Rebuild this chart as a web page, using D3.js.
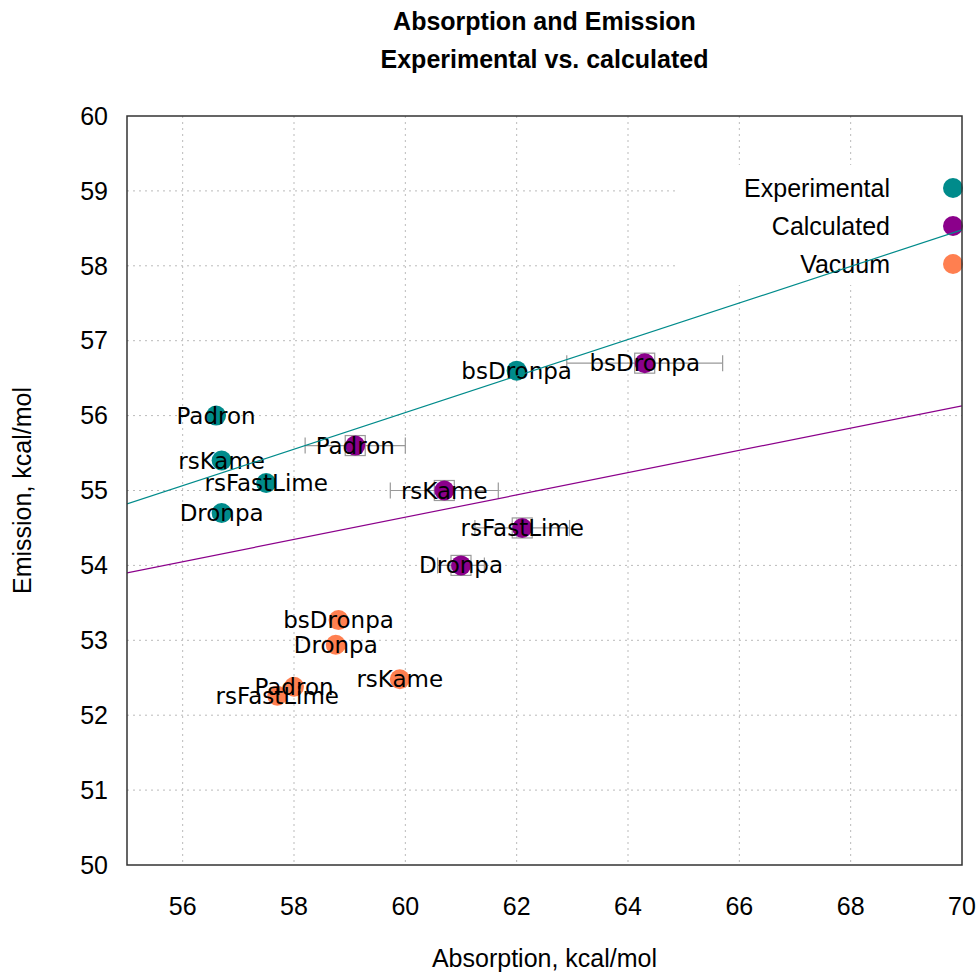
<!DOCTYPE html>
<html>
<head>
<meta charset="utf-8">
<script src="https://cdn.jsdelivr.net/npm/d3@7"></script>
<style>
    body { margin: 0; background: #fff; }
    svg text { fill: #000; }
    .grid line { stroke: #bbb; stroke-width: 1; stroke-dasharray: 2,4; }
    .border { fill: none; stroke: #333; stroke-width: 1.5; }
    .tick-label { font-family: "Liberation Sans", Arial, sans-serif; font-size: 25px; }
    .axis-title { font-family: "Liberation Sans", Arial, sans-serif; font-size: 25px; }
    .title { font-family: "Liberation Sans", Arial, sans-serif; font-size: 25px; font-weight: bold; }
    .point-label { font-family: "DejaVu Sans", sans-serif; font-size: 23px; }
    .legend-text { font-family: "Liberation Sans", Arial, sans-serif; font-size: 25px; }
    .errbar { stroke: #999; stroke-width: 1.2; fill: none; }
</style>
</head>
<body>
<div id="chart"></div>
<script>
// protein names, same order in every series
var names = ["Padron", "rsKame", "rsFastLime", "Dronpa", "bsDronpa"];

// experimental absorption / emission, kcal/mol
var expAbs = [56.6, 56.7, 57.5, 56.7, 62.0];
var expEm  = [56.0, 55.4, 55.1, 54.7, 56.6];

// calculated, with absorption error
var calcAbs    = [59.1, 60.7, 62.1, 61.0, 64.3];
var calcAbsErr = [0.9, 0.97, 0.85, 0.42, 1.4];
var calcEm     = [55.6, 55.0, 54.5, 54.0, 56.7];

// vacuum
var vacAbs = [58.0, 59.9, 57.7, 58.75, 58.8];
var vacEm  = [52.38, 52.48, 52.26, 52.94, 53.27];

// linear fits, evaluated at the x range ends
var fitX     = [55, 70];
var fitExpY  = [54.82, 58.48];
var fitCalcY = [53.90, 56.13];

var xTicks = [56, 58, 60, 62, 64, 66, 68, 70];
var yTicks = [50, 51, 52, 53, 54, 55, 56, 57, 58, 59, 60];

var seriesNames  = ["Experimental", "Calculated", "Vacuum"];
var seriesColors = ["#008b8b", "#8b008b", "#ff7f50"];

var margin = { top: 116, right: 15, bottom: 110, left: 127 },
    totalW = 977, totalH = 975,
    width = totalW - margin.left - margin.right,
    height = totalH - margin.top - margin.bottom,
    radius = 10;

var svg = d3.select("#chart").append("svg")
    .attr("width", totalW)
    .attr("height", totalH);

var g = svg.append("g")
    .attr("transform", "translate(" + margin.left + "," + margin.top + ")");

var x = d3.scaleLinear().domain([55, 70]).range([0, width]);
var y = d3.scaleLinear().domain([50, 60]).range([height, 0]);

// grid
var grid = g.append("g").attr("class", "grid");
grid.selectAll(".gx").data(xTicks.filter(function(d) { return d < 70; }))
    .enter().append("line")
    .attr("x1", function(d) { return x(d); }).attr("x2", function(d) { return x(d); })
    .attr("y1", 0).attr("y2", height);
grid.selectAll(".gy").data(yTicks.filter(function(d) { return d > 50 && d < 60; }))
    .enter().append("line")
    .attr("x1", 0).attr("x2", width)
    .attr("y1", function(d) { return y(d); }).attr("y2", function(d) { return y(d); });

// tick labels
g.append("g").selectAll("text").data(xTicks)
    .enter().append("text")
    .attr("class", "tick-label")
    .attr("x", function(d) { return x(d); })
    .attr("y", height + 41)
    .attr("dy", "0.35em")
    .attr("text-anchor", "middle")
    .text(function(d) { return d; });

g.append("g").selectAll("text").data(yTicks)
    .enter().append("text")
    .attr("class", "tick-label")
    .attr("x", -19)
    .attr("y", function(d) { return y(d); })
    .attr("dy", "0.35em")
    .attr("text-anchor", "end")
    .text(function(d) { return d; });

// opaque key box
var legend = g.append("g").attr("class", "legend");
legend.append("rect")
    .attr("x", x(64.85)).attr("y", 49)
    .attr("width", width - x(64.85)).attr("height", 120)
    .attr("fill", "#fff");

// clip for everything inside the plot
svg.append("defs").append("clipPath").attr("id", "plot-clip")
    .append("rect").attr("width", width).attr("height", height);

var plot = g.append("g").attr("clip-path", "url(#plot-clip)");

function zip(xs, ys) {
    return xs.map(function(v, i) { return { name: names[i], x: v, y: ys[i], i: i }; });
}

var expData = zip(expAbs, expEm),
    calcData = zip(calcAbs, calcEm),
    vacData = zip(vacAbs, vacEm);

// calculated error bars + square
var eb = plot.append("g").selectAll("g").data(calcData).enter().append("g");
eb.append("line").attr("class", "errbar")
    .attr("x1", function(d) { return x(d.x - calcAbsErr[d.i]); })
    .attr("x2", function(d) { return x(d.x + calcAbsErr[d.i]); })
    .attr("y1", function(d) { return y(d.y); })
    .attr("y2", function(d) { return y(d.y); });
eb.append("line").attr("class", "errbar")
    .attr("x1", function(d) { return x(d.x - calcAbsErr[d.i]); })
    .attr("x2", function(d) { return x(d.x - calcAbsErr[d.i]); })
    .attr("y1", function(d) { return y(d.y) - 8; })
    .attr("y2", function(d) { return y(d.y) + 8; });
eb.append("line").attr("class", "errbar")
    .attr("x1", function(d) { return x(d.x + calcAbsErr[d.i]); })
    .attr("x2", function(d) { return x(d.x + calcAbsErr[d.i]); })
    .attr("y1", function(d) { return y(d.y) - 8; })
    .attr("y2", function(d) { return y(d.y) + 8; });
eb.append("rect").attr("class", "errbar")
    .attr("x", function(d) { return x(d.x) - 10; })
    .attr("y", function(d) { return y(d.y) - 10; })
    .attr("width", 20).attr("height", 20);

// points, then labels on top
[expData, calcData, vacData].forEach(function(data, k) {
    plot.append("g").selectAll("circle").data(data)
        .enter().append("circle")
        .attr("cx", function(d) { return x(d.x); })
        .attr("cy", function(d) { return y(d.y); })
        .attr("r", radius)
        .attr("fill", seriesColors[k]);
});

[expData, calcData, vacData].forEach(function(data) {
    plot.append("g").selectAll("text").data(data)
        .enter().append("text")
        .attr("class", "point-label")
        .attr("x", function(d) { return x(d.x); })
        .attr("y", function(d) { return y(d.y); })
        .attr("dy", "0.35em")
        .attr("text-anchor", "middle")
        .text(function(d) { return d.name; });
});

// key entries
var li = legend.selectAll(".item").data(seriesNames)
    .enter().append("g").attr("class", "item")
    .attr("transform", function(d, i) { return "translate(0," + (72 + i * 38) + ")"; });
li.append("text")
    .attr("class", "legend-text")
    .attr("x", 763)
    .attr("dy", "0.35em")
    .attr("text-anchor", "end")
    .text(function(d) { return d; });
li.append("circle")
    .attr("cx", 826).attr("r", radius)
    .attr("fill", function(d, i) { return seriesColors[i]; });

// fit lines
var line = d3.line()
    .x(function(d) { return x(d[0]); })
    .y(function(d) { return y(d[1]); });
[fitExpY, fitCalcY].forEach(function(ys, k) {
    plot.append("path")
        .datum(fitX.map(function(v, i) { return [v, ys[i]]; }))
        .attr("d", line)
        .attr("fill", "none")
        .attr("stroke", seriesColors[k])
        .attr("stroke-width", 1.2);
});

// border
g.append("rect").attr("class", "border")
    .attr("width", width).attr("height", height);

// titles
svg.append("text").attr("class", "title")
    .attr("x", margin.left + width / 2).attr("y", 30)
    .attr("text-anchor", "middle")
    .text("Absorption and Emission");
svg.append("text").attr("class", "title")
    .attr("x", margin.left + width / 2).attr("y", 68)
    .attr("text-anchor", "middle")
    .text("Experimental vs. calculated");

svg.append("text").attr("class", "axis-title")
    .attr("x", margin.left + width / 2).attr("y", 967)
    .attr("text-anchor", "middle")
    .text("Absorption, kcal/mol");
svg.append("text").attr("class", "axis-title")
    .attr("transform", "translate(31," + (margin.top + height / 2) + ") rotate(-90)")
    .attr("text-anchor", "middle")
    .text("Emission, kcal/mol");
</script>
</body>
</html>
